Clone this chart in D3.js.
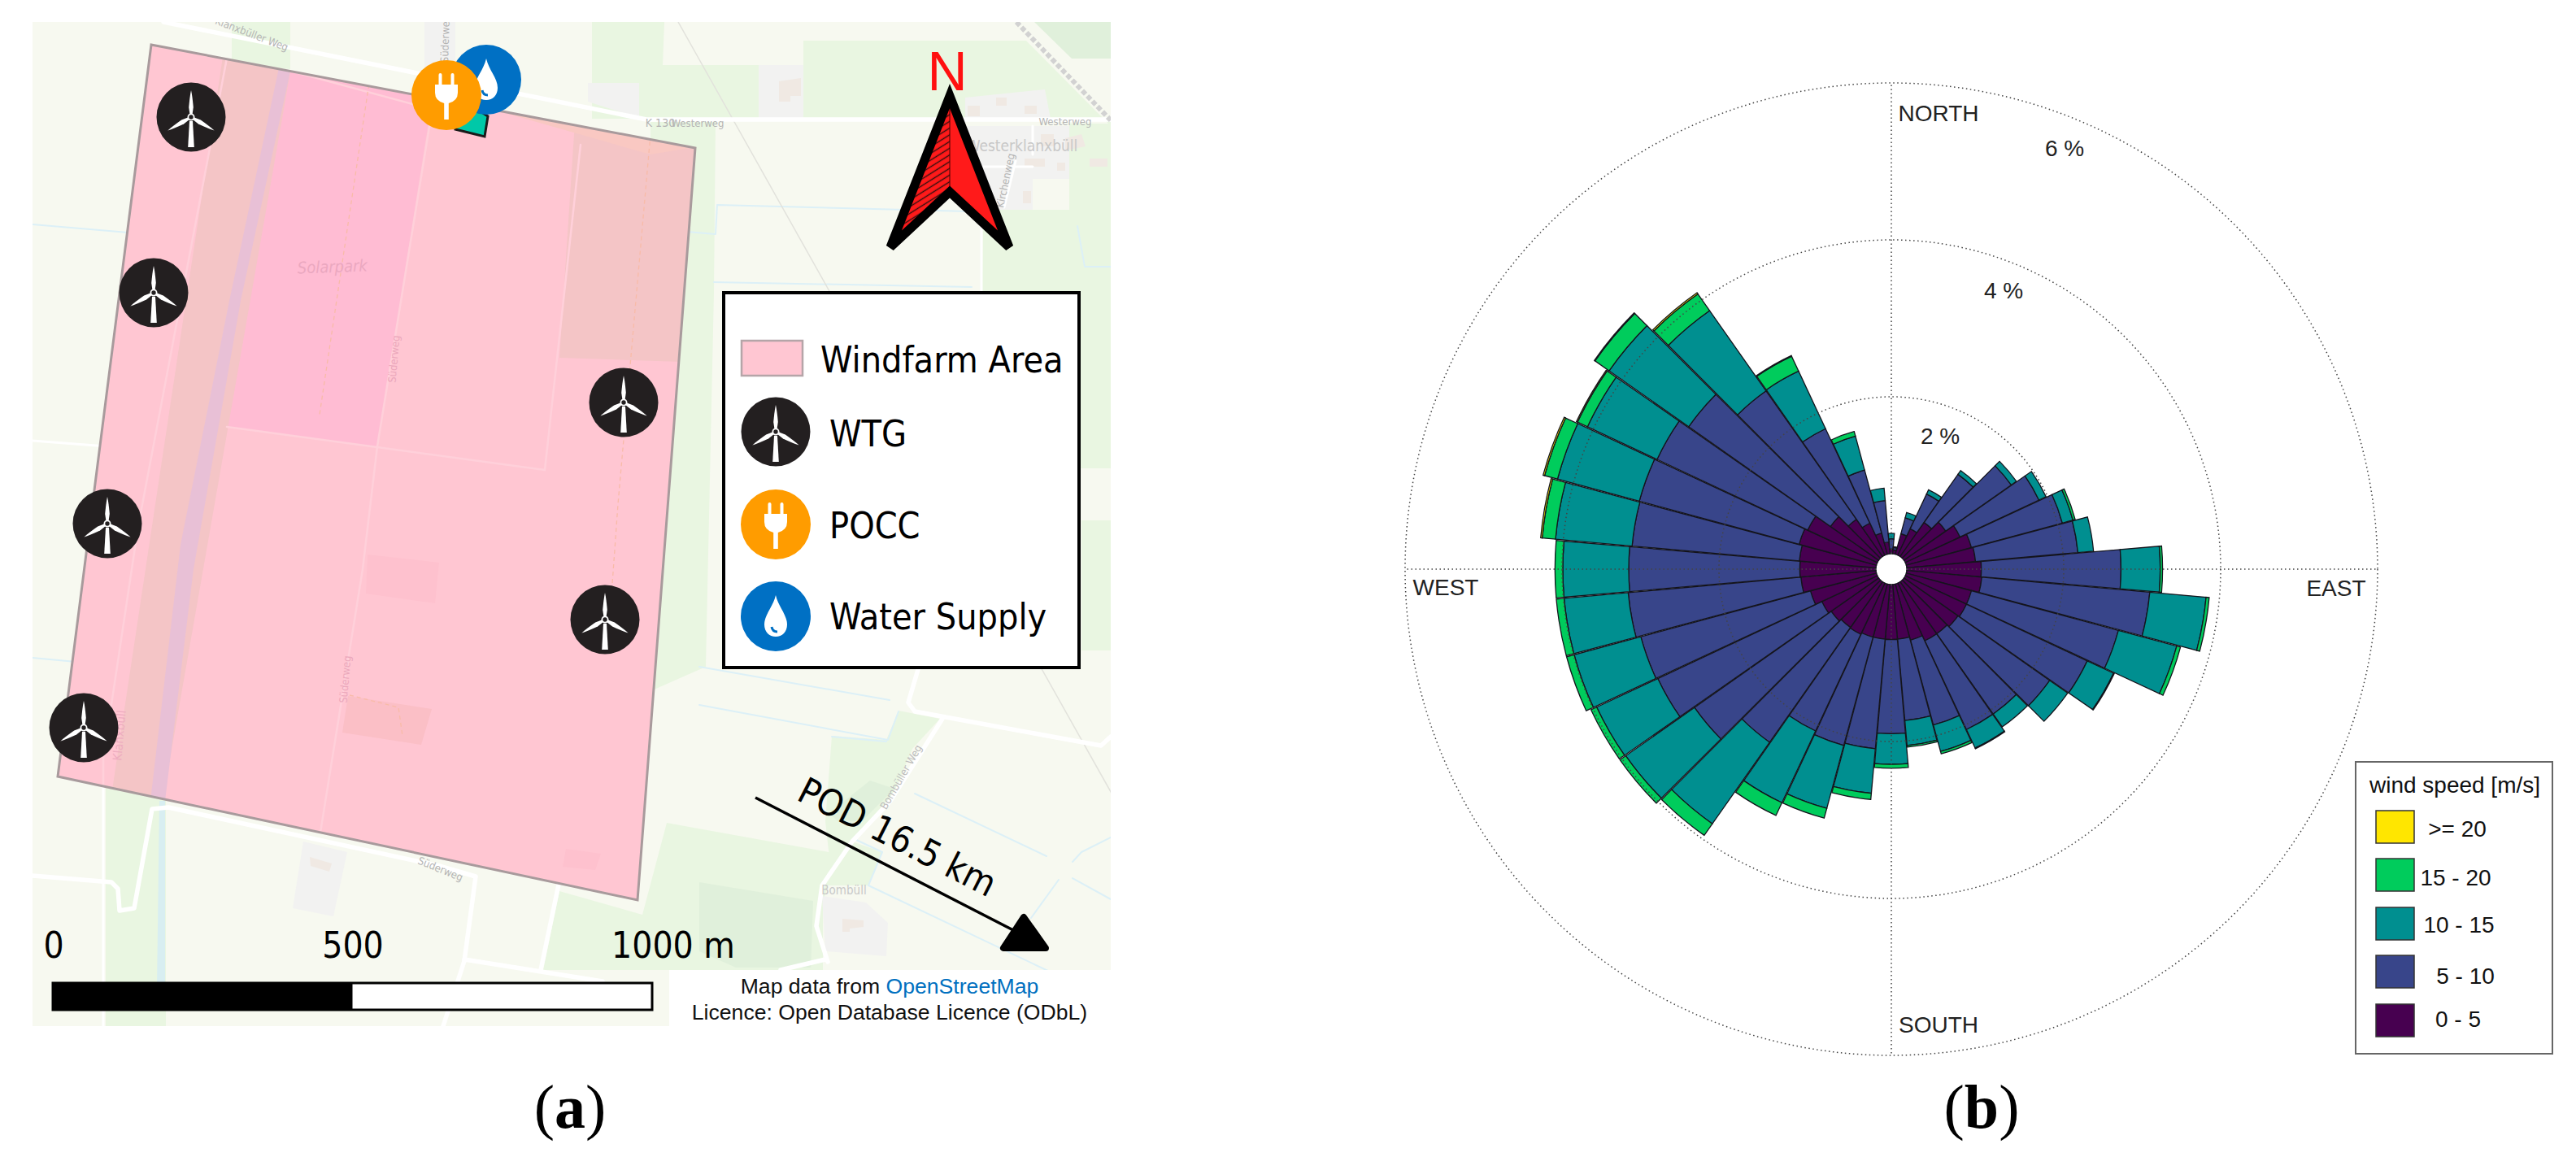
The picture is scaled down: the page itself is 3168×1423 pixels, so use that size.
<!DOCTYPE html>
<html><head><meta charset="utf-8">
<script src="https://cdnjs.cloudflare.com/ajax/libs/d3/7.8.5/d3.min.js"></script>
<style>html,body{margin:0;padding:0;background:#fff}svg{display:block}</style>
</head><body>
<svg id="c" width="3168" height="1423" xmlns="http://www.w3.org/2000/svg"></svg>
<script>
// ---------- wind rose data (% of time per 10 degree sector, clockwise from north) ----------
const directions = d3.range(0, 360, 10);
const speedBins  = ["0 - 5", "5 - 10", "10 - 15", "15 - 20", ">= 20"];
const speed0to5  = [.06,.05,.27,.37,.53,.65,.77,.86,.88,.95,.96,.86,.86,.84,.81,.81,.74,.70,.70,.70,.70,.72,.71,.74,.78,.87,.96,.97,.98,1.02,.98,.75,.58,.45,.28,.15];
const speed5to10 = [.13,.03,.21,.49,.75,1.02,1.11,1.20,1.31,1.78,2.15,1.94,1.70,1.43,1.25,1.25,1.12,1.04,1.20,1.40,1.43,1.36,1.79,2.13,2.31,2.24,2.21,2.18,2.14,2.11,2.12,2.21,2.00,1.33,.83,.53];
const speed10to15= [.07,.01,.07,.06,.06,.08,.10,.14,.20,.50,.72,.77,.37,.28,.20,.26,.35,.32,.39,.57,.83,1.01,1.27,1.07,.86,.88,.82,.84,.98,1.08,.98,1.24,1.25,.81,.45,.16];
const speed15to20= [0,0,0,0,0,0,0,.03,0,.03,.04,.05,.01,0,0,.01,.03,.02,.05,.08,.13,.18,.18,.09,.08,.10,.10,.10,.17,.17,.14,.22,.26,.21,.06,0];
const speedOver20= [0,0,0,0,0,0,0,0,0,0,0,0,0,0,0,0,0,0,0,0,0,0,0,0,0,0,0,0,.02,.02,.015,.01,.02,.01,0,0];
const binColors  = ["#470050","#38458a","#008f90","#00cc5c","#ffe600"];
const radialTicks= [2,4,6];
const compass    = ["NORTH","EAST","SOUTH","WEST"];

// ---------- site map content ----------
const siteLegend = ["Windfarm Area","WTG","POCC","Water Supply"];
const scaleLabels= ["0","500","1000 m"];
const podLabel   = "POD 16.5 km";

// map layout, in image pixels
const M = {x0:40, y0:27, x1:1366, y1:1262};
const windfarm = [[186,55],[855,182],[784,1107],[71,955]];
const turbines = [[235,144],[189,360],[132,644],[767,495],[744,762],[103,895]];
const greens = [
 [[728,27],[817,27],[815,80],[933,80],[933,146],[728,146]],
 [[988,50],[1262,50],[1366,155],[1366,146],[988,146]],
 [[1315,152],[1366,152],[1366,258],[1315,258]],
 [[1209,258],[1366,258],[1366,576],[1205,576]],
 [[800,150],[880,150],[878,360],[868,820],[800,850]],
 [[1330,640],[1366,640],[1366,800],[1330,800]],
 [[285,27],[357,27],[357,85],[285,80]],
 [[130,955],[204,975],[204,1262],[130,1262]],
 [[820,1012],[1030,1050],[1012,1110],[1012,1193],[668,1193],[688,1096],[790,1125]],
 [[1023,905],[1090,910],[1105,874],[1156,884],[1122,921],[1095,985],[1048,1035],[1085,1048],[1068,1089],[1010,1089],[1020,1055],[1015,1010]]
];
const darkGreens = [
 [[860,1085],[1000,1108],[997,1190],[905,1190],[860,1170]],
 [[1020,1000],[1070,960],[1100,970],[1060,1010],[1030,1010]],
 [[1272,27],[1366,27],[1366,72],[1318,72]]
];
const grays = [
 [[933,80],[988,80],[988,146],[933,146]],
 [[1187,120],[1285,110],[1292,146],[1187,146]],
 [[1187,155],[1315,155],[1315,220],[1270,220],[1270,258],[1187,258]],
 [[373,1035],[427,1048],[410,1127],[360,1117]],
 [[1011,1102],[1065,1110],[1092,1135],[1090,1176],[1015,1170]],
 [[723,102],[786,102],[786,145],[723,125]],
 [[522,27],[560,27],[560,95],[522,85]]
];
const buildings = [
 [[958,100],[985,96],[985,118],[972,118],[972,125],[958,125]],
 [[1190,130],[1205,130],[1205,143],[1190,143]],
 [[1225,120],[1238,120],[1238,130],[1225,130]],
 [[1260,130],[1275,130],[1275,140],[1260,140]],
 [[1280,165],[1296,165],[1296,180],[1280,180]],
 [[1310,170],[1330,165],[1335,180],[1310,185]],
 [[1260,195],[1285,195],[1285,205],[1260,205]],
 [[1300,200],[1310,200],[1310,210],[1300,210]],
 [[1340,195],[1362,195],[1362,205],[1340,205]],
 [[1258,235],[1268,235],[1268,250],[1258,250]],
 [[381,1054],[408,1062],[405,1072],[382,1065]],
 [[1036,1130],[1062,1132],[1062,1140],[1045,1142],[1045,1146],[1036,1146]]
];
const waters = [
 [[40,276],[228,292]],[[40,809],[125,817]],[[845,285],[880,288],[882,252],[1191,260]],
 [[878,347],[1195,353]],[[1325,278],[1334,328],[1366,328]],[[860,820],[1094,861]],
 [[860,867],[1092,910],[1105,875]],[[1125,976],[1287,1053]],
 [[1051,1032],[1085,1048],[1068,1089],[1293,1196]],[[1268,1129],[1302,1082]],
 [[1319,1060],[1330,1048],[1366,1030]],[[1319,1080],[1366,1106]],[[1023,906],[1090,912]]
];
const canalOutside = [[196,985],[203,985],[203,1215],[193,1215]];
const roads = [
 [[201,27],[795,147],[1366,147]],
 [[1130,820],[1117,864],[1125,875],[1354,917],[1366,906]],
 [[1159,884],[1095,985],[1048,1035],[1011,1089],[1004,1139],[1018,1183]],
 [[1015,1180],[960,1193]],
 [[540,1065],[207,993],[187,995],[165,1117],[147,1120],[145,1093],[137,1085],[40,1077]],
 [[540,1065],[585,1078],[571,1182],[545,1262]],
 [[571,1180],[741,1207]],[[687,1088],[665,1193]]
];
const minorRoads = [
 [[40,542],[183,553]],
 [[127,933],[127,1262]],
 [[1207,258],[1207,358]],[[1235,255],[1249,198]],[[1187,205],[1270,205]],[[1270,155],[1270,190]]
];
const railway = [[1250,27],[1366,148]];
const powerLine = [[834,27],[1370,981]];
// features seen through the windfarm fill
const pinkAreas = [
 {c:"#ffbcd3",p:[[362,60],[533,112],[464,549],[279,525]]},
 {c:"#f4c5c6",p:[[277,50],[362,60],[200,985],[136,985]]},
 {c:"#e8c0d6",p:[[348,60],[363,60],[296,370],[238,700],[203,985],[185,985],[222,670],[282,370]]},
 {c:"#f4c5c6",p:[[707,150],[860,180],[838,445],[688,440]]},
 {c:"#fbbfc6",p:[[428,856],[531,872],[518,916],[421,901]]},
 {c:"#fec1ce",p:[[452,682],[540,692],[535,742],[450,730]]},
 {c:"#fec1ce",p:[[696,1044],[739,1050],[732,1070],[692,1066]]},
 {c:"#f9c8c2",p:[[625,110],[860,180],[800,190],[625,140]]}
];
const pinkLines = [
 [[533,125],[464,549],[446,700],[393,1030]],
 [[279,525],[670,578],[714,178]],
 [[284,45],[170,647],[127,933],[127,1000]],
 [[360,88],[533,135]]
];
const orangeDash = [[[455,95],[393,510]],[[800,165],[760,620],[750,760]],[[430,855],[490,870],[495,905]]];
const mapTexts = [
 {t:"Klanxbüller Weg",x:308,y:46,r:21,s:13,c:"#b4b4b4"},{t:"Süderweg",x:552,y:48,r:-88,s:13,c:"#b4b4b4"},
 {t:"K 130",x:812,y:156,r:0,s:14,c:"#b4b4b4"},{t:"Westerweg",x:858,y:156,r:0,s:13,c:"#b4b4b4"},
 {t:"Westerweg",x:1310,y:154,r:0,s:13,c:"#b4b4b4"},{t:"Westerklanxbüll",x:1257,y:186,r:0,s:19,c:"#c8c8c8"},
 {t:"Kirchenweg",x:1241,y:223,r:-78,s:13,c:"#b4b4b4"},{t:"Bombüller Weg",x:1112,y:958,r:-60,s:13,c:"#bcbcbc"},
 {t:"Bombüll",x:1038,y:1100,r:0,s:15,c:"#c8c8c8"},{t:"Süderweg",x:540,y:1073,r:22,s:13,c:"#b4b4b4"},
 {t:"Solarpark",x:409,y:335,r:-2,s:20,c:"#eba8c0",i:1},{t:"Süderweg",x:489,y:442,r:-85,s:13,c:"#eba8bc"},
 {t:"Klanxbüll",x:152,y:905,r:-85,s:15,c:"#eeadc0"},{t:"Süderweg",x:429,y:836,r:-85,s:13,c:"#eba8bc"}
];
const pinkTextColors = ["#eba8c0","#eba8bc","#eeadc0"];

const svg = d3.select("#c");
const line = d3.line();
const poly = p => line(p) + "Z";
const COND = "'DejaVu Sans Condensed','DejaVu Sans',sans-serif";
const ARIAL = "'Liberation Sans',Arial,sans-serif";

const defs = svg.append("defs");
defs.append("clipPath").attr("id","mapClip").append("rect")
  .attr("x",M.x0).attr("y",M.y0).attr("width",M.x1-M.x0).attr("height",M.y1-M.y0);
defs.append("clipPath").attr("id","farmClip").append("path").attr("d",poly(windfarm));
const hatch = defs.append("pattern").attr("id","hatch").attr("patternUnits","userSpaceOnUse")
  .attr("width",9).attr("height",7).attr("patternTransform","rotate(-32)");
hatch.append("rect").attr("width",9).attr("height",7).attr("fill","#ff1a1a");
hatch.append("line").attr("x1",0).attr("x2",9).attr("y1",3.5).attr("y2",3.5).attr("stroke","#301010").attr("stroke-width",1.4);

// ---------- map ----------
const map = svg.append("g").attr("clip-path","url(#mapClip)");
map.append("rect").attr("x",M.x0).attr("y",M.y0).attr("width",M.x1-M.x0).attr("height",M.y1-M.y0).attr("fill","#f7f9f0");
const fills = (g,arr,c) => g.selectAll(null).data(arr).join("path").attr("d",poly).attr("fill",c);
const strokes = (g,arr,c,w) => g.selectAll(null).data(arr).join("path").attr("d",line).attr("fill","none").attr("stroke",c).attr("stroke-width",w).attr("stroke-linejoin","round").attr("stroke-linecap","round");
fills(map,greens,"#e9f6e1");
fills(map,darkGreens,"#e0f0db");
fills(map,grays,"#f2f2f1");
fills(map,buildings,"#f0e9e3");
fills(map,[canalOutside],"#d8eef1");
strokes(map,waters,"#dcf0f7",2);
map.append("path").attr("d",line(powerLine)).attr("stroke","#e2e2dc").attr("stroke-width",1.5).attr("fill","none");
strokes(map,minorRoads,"#ffffff",3);
strokes(map,roads,"#ffffff",5.5);
map.append("path").attr("d",line(railway)).attr("stroke","#d2d2d2").attr("stroke-width",6).attr("stroke-dasharray","6 3").attr("fill","none");
map.selectAll(null).data(mapTexts).join("text").text(d=>d.t)
  .attr("transform",d=>`translate(${d.x},${d.y}) rotate(${d.r})`)
  .attr("text-anchor","middle")
  .attr("font-family",COND).attr("font-size",d=>d.s).attr("font-style",d=>d.i?"italic":"normal").attr("fill",d=>d.c);

// windfarm area
map.append("path").attr("d",poly(windfarm)).attr("fill","#ffc6d2");
const inFarm = map.append("g").attr("clip-path","url(#farmClip)");
inFarm.selectAll(null).data(pinkAreas).join("path").attr("d",d=>poly(d.p)).attr("fill",d=>d.c);
strokes(inFarm,pinkLines,"#ffd0da",2.5);
inFarm.selectAll(null).data(orangeDash).join("path").attr("d",line).attr("fill","none").attr("stroke","#f8bba8").attr("stroke-width",1.3).attr("stroke-dasharray","5 4");
inFarm.selectAll(null).data(mapTexts.filter(d=>pinkTextColors.includes(d.c))).join("text").text(d=>d.t)
  .attr("transform",d=>`translate(${d.x},${d.y}) rotate(${d.r})`).attr("text-anchor","middle")
  .attr("font-family",COND).attr("font-size",d=>d.s).attr("font-style",d=>d.i?"italic":"normal").attr("fill",d=>d.c);
map.append("path").attr("d",poly(windfarm)).attr("fill","none").attr("stroke","#a89a9c").attr("stroke-width",3);

// ---------- icons ----------
function turbine(g,x,y){
  const i=g.append("g").attr("transform",`translate(${x},${y})`);
  i.append("circle").attr("r",42.5).attr("fill","#231f20");
  i.append("path").attr("d","M-2,5 L2,5 L3.8,37 L-3.8,37Z").attr("fill","#fff");
  [0,120,240].forEach(a=>i.append("path").attr("transform",`rotate(${a})`).attr("d","M-1.5,-3 L-2.8,-12 Q-1.5,-26 0,-33 Q1.6,-26 2.8,-12 L1.5,-3Z").attr("fill","#fff"));
  i.append("circle").attr("r",3.6).attr("fill","#231f20").attr("stroke","#fff").attr("stroke-width",1.8);
}
function plug(g,x,y){
  const i=g.append("g").attr("transform",`translate(${x},${y})`);
  i.append("circle").attr("r",43).attr("fill","#ff9c00");
  i.append("path").attr("fill","#fff").attr("d","M-9.5,-13 V-25 Q-9.5,-27 -7.5,-27 Q-5.5,-27 -5.5,-25 V-13 H5.5 V-25 Q5.5,-27 7.5,-27 Q9.5,-27 9.5,-25 V-13 H14 V-3 Q14,7 2.8,10 V30 H-2.8 V10 Q-14,7 -14,-3 V-13Z");
}
function drop(g,x,y){
  const i=g.append("g").attr("transform",`translate(${x},${y})`);
  i.append("circle").attr("r",43).attr("fill","#0070c4");
  i.append("path").attr("fill","#fff").attr("d","M0,-26 C3,-12 14,-2 14,10 C14,19 8,25 0,25 C-8,25 -14,19 -14,10 C-14,-2 -3,-12 0,-26Z");
  i.append("path").attr("fill","none").attr("stroke","#0070c4").attr("stroke-width",3).attr("d","M-5,13 Q-4,19 2,19");
}
// connection pad under POCC
map.append("path").attr("d",poly([[600,143],[596,168],[560,159],[565,120]])).attr("fill","#00c8a8").attr("stroke","#1a1a1a").attr("stroke-width",3);
turbines.forEach(t=>turbine(map,t[0],t[1]));
drop(map,598,98);
plug(map,549,117);

// site legend
const lg = svg.append("g");
lg.append("rect").attr("x",890).attr("y",360).attr("width",437).attr("height",461).attr("fill","#fff").attr("stroke","#000").attr("stroke-width",4);
lg.append("rect").attr("x",912).attr("y",419).attr("width",75).attr("height",43).attr("fill","#ffc6d2").attr("stroke","#b5a5a8").attr("stroke-width",2.5);
turbine(lg,954,531); plug(lg,954,645); drop(lg,954,758);
const legendBase=[458,549,662,774], legendX=[1009,1020,1020,1020];
lg.selectAll(null).data(siteLegend).join("text").text(d=>d)
  .attr("x",(d,i)=>legendX[i]).attr("y",(d,i)=>legendBase[i])
  .attr("font-family",COND).attr("font-size",44.5).attr("fill","#000");

// north arrow
const na = svg.append("g");
na.append("text").text("N").attr("x",1165).attr("y",111).attr("text-anchor","middle").attr("font-family",ARIAL).attr("font-size",68).attr("fill","#ff1010");
na.append("path").attr("d",poly([[1168,118],[1168,236],[1096,302]])).attr("fill","url(#hatch)");
na.append("path").attr("d",poly([[1168,118],[1168,236],[1240,302]])).attr("fill","#ff1a1a");
na.append("path").attr("d",line([[1168,236],[1168,118]])).attr("stroke","#400").attr("stroke-width",1);
na.append("path").attr("d",poly([[1168,118],[1241,304],[1168,236],[1095,304]])).attr("fill","none").attr("stroke","#000").attr("stroke-width",11).attr("stroke-linejoin","miter").attr("stroke-miterlimit",3);

// POD arrow
const pod = svg.append("g");
pod.append("line").attr("x1",929).attr("y1",981).attr("x2",1250).attr("y2",1146).attr("stroke","#000").attr("stroke-width",3.5);
pod.append("path").attr("d",poly([[1259,1128],[1234,1166],[1286,1166]])).attr("fill","#000").attr("stroke","#000").attr("stroke-width",8).attr("stroke-linejoin","round");
pod.append("text").text(podLabel).attr("transform","translate(978,983) rotate(27)").attr("font-family",COND).attr("font-size",45).attr("fill","#000");

// scale bar
const scaleX = d3.scaleLinear().domain([0,1000]).range([65,802]);
const sb = svg.append("g");
sb.append("rect").attr("x",scaleX(0)).attr("y",1209).attr("width",scaleX(1000)-scaleX(0)).attr("height",33).attr("fill","#fff").attr("stroke","#000").attr("stroke-width",3);
sb.append("rect").attr("x",scaleX(0)).attr("y",1209).attr("width",scaleX(500)-scaleX(0)).attr("height",33).attr("fill","#000");
const sbX=[66,434,828];
sb.selectAll(null).data(scaleLabels).join("text").text(d=>d).attr("x",(d,i)=>sbX[i]).attr("y",1178).attr("text-anchor","middle")
  .attr("font-family",COND).attr("font-size",44).attr("fill","#000");

// attribution
svg.append("rect").attr("x",823).attr("y",1193).attr("width",543).attr("height",69).attr("fill","#fff");
const at1 = svg.append("text").attr("x",1094).attr("y",1222).attr("text-anchor","middle").attr("font-family",ARIAL).attr("font-size",26.6).attr("fill","#111");
at1.append("tspan").text("Map data from ");
at1.append("tspan").text("OpenStreetMap").attr("fill","#0070c0");
svg.append("text").attr("x",1094).attr("y",1254).attr("text-anchor","middle").attr("font-family",ARIAL).attr("font-size",26.6).attr("fill","#111").text("Licence: Open Database Licence (ODbL)");

// panel labels
function panel(x,letter){
  const t=svg.append("text").attr("x",x).attr("y",1387).attr("text-anchor","middle").attr("font-family","'Liberation Serif',serif").attr("font-size",76).attr("fill","#000");
  t.append("tspan").text("(");t.append("tspan").text(letter).attr("font-weight","bold");t.append("tspan").text(")");
}
panel(701,"a"); panel(2437,"b");

// ---------- wind rose ----------
const cx=2326, cy=700;
const r = d3.scaleLinear().domain([0,6]).range([19,598]);
const ang = d3.scaleLinear().domain([0,360]).range([0,2*Math.PI]);
const halfWidth = 4.9;
const table = directions.map((d,i)=>({dir:d,[speedBins[0]]:speed0to5[i],[speedBins[1]]:speed5to10[i],[speedBins[2]]:speed10to15[i],[speedBins[3]]:speed15to20[i],[speedBins[4]]:speedOver20[i]}));
const stacked = d3.stack().keys(speedBins)(table);
const arc = d3.arc();
const rose = svg.append("g").attr("transform",`translate(${cx},${cy})`);
rose.selectAll("g.bin").data(stacked).join("g").attr("class","bin").attr("fill",(d,i)=>binColors[i])
  .selectAll("path").data(d=>d.filter(s=>s[1]-s[0]>0)).join("path")
  .attr("d",s=>arc({innerRadius:r(s[0]),outerRadius:r(s[1]),startAngle:ang(s.data.dir-halfWidth),endAngle:ang(s.data.dir+halfWidth)}))
  .attr("stroke","#14141c").attr("stroke-width",1.3).attr("stroke-linejoin","miter");
// grid on top of bars
const gridG = rose.append("g").attr("fill","none").attr("stroke","#444").attr("stroke-width",1.5).attr("stroke-dasharray","1.5 3.5");
gridG.selectAll("circle").data(radialTicks).join("circle").attr("r",d=>r(d));
gridG.selectAll("line").data(compass).join("line")
  .attr("x1",(d,i)=>Math.sin(ang(i*90))*r(0)).attr("y1",(d,i)=>-Math.cos(ang(i*90))*r(0))
  .attr("x2",(d,i)=>Math.sin(ang(i*90))*r(6)).attr("y2",(d,i)=>-Math.cos(ang(i*90))*r(6));
const roseLabelPos=[[2384,149],[2873,733],[2384,1270],[1778,732]];
svg.selectAll(null).data(compass).join("text").text(d=>d).attr("x",(d,i)=>roseLabelPos[i][0]).attr("y",(d,i)=>roseLabelPos[i][1])
  .attr("text-anchor","middle").attr("font-family",ARIAL).attr("font-size",28).attr("fill","#222");
const tickPos=[[2386,546],[2464,367],[2539,192]];
svg.selectAll(null).data(radialTicks).join("text").text(d=>d+" %").attr("x",(d,i)=>tickPos[i][0]).attr("y",(d,i)=>tickPos[i][1])
  .attr("text-anchor","middle").attr("font-family",ARIAL).attr("font-size",28).attr("fill","#222");

// wind speed legend
const wl = svg.append("g");
wl.append("rect").attr("x",2897).attr("y",937).attr("width",242).attr("height",359).attr("fill","#fff").attr("stroke","#666").attr("stroke-width",2);
wl.append("text").text("wind speed [m/s]").attr("x",3019).attr("y",975).attr("text-anchor","middle").attr("font-family",ARIAL).attr("font-size",28).attr("fill","#111");
const swatchY=[1235,1175,1116,1056,997], labelY=[1263,1210,1147,1089,1029], labelCx=[3023,3032,3024,3020,3022];
wl.selectAll("rect.s").data(speedBins).join("rect").attr("class","s").attr("x",2922).attr("y",(d,i)=>swatchY[i]).attr("width",47).attr("height",40)
  .attr("fill",(d,i)=>binColors[i]).attr("stroke","#333").attr("stroke-width",1.5);
wl.selectAll("text.l").data(speedBins).join("text").attr("class","l").text(d=>d).attr("x",(d,i)=>labelCx[i]).attr("y",(d,i)=>labelY[i])
  .attr("text-anchor","middle").attr("font-family",ARIAL).attr("font-size",28).attr("fill","#111");
</script>
</body></html>
